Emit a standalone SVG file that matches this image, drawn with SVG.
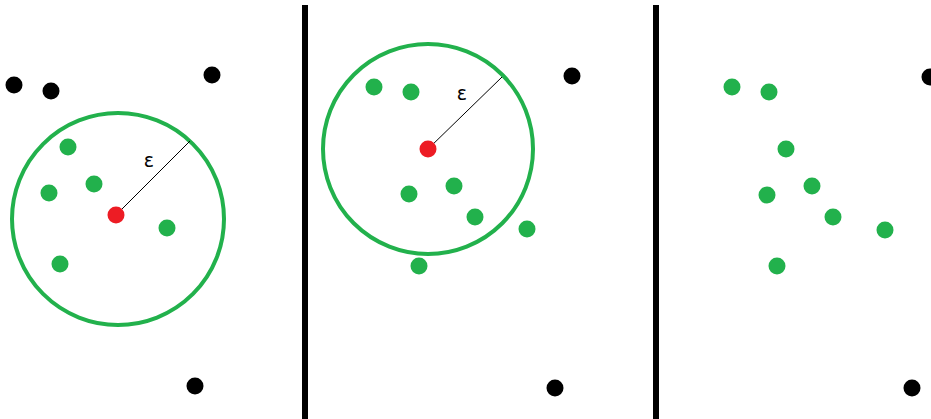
<svg xmlns="http://www.w3.org/2000/svg" width="931" height="419" viewBox="0 0 931 419">
<style>
.bg{fill:#fff}
.div{fill:#000}
.ring{fill:none;stroke:#22b14c;stroke-width:4}
.g{fill:#22b14c}
.k{fill:#000}
.r{fill:#ed1c24}
.rad{stroke:#000;stroke-width:1}
.eps{font-family:"DejaVu Sans","Liberation Sans",sans-serif;font-size:19px;fill:#000;text-anchor:middle}
</style>
<rect class="bg" x="0" y="0" width="931" height="419"/>
<g id="dividers">
<rect class="div" x="302" y="5" width="6" height="414"/>
<rect class="div" x="653" y="5" width="6" height="414"/>
</g>
<g id="panel1">
<circle class="ring" cx="118" cy="219" r="106"/>
<line class="rad" x1="116" y1="215" x2="190" y2="141"/>
<text class="eps" x="149" y="167">ε</text>
<circle class="k" cx="14" cy="85" r="8.5"/>
<circle class="k" cx="51" cy="91" r="8.5"/>
<circle class="k" cx="212" cy="75" r="8.5"/>
<circle class="k" cx="195" cy="386" r="8.5"/>
<circle class="g" cx="68" cy="147" r="8.5"/>
<circle class="g" cx="94" cy="184" r="8.5"/>
<circle class="g" cx="49" cy="193" r="8.5"/>
<circle class="g" cx="167" cy="228" r="8.5"/>
<circle class="g" cx="60" cy="264" r="8.5"/>
<circle class="r" cx="116" cy="215" r="8.5"/>
</g>
<g id="panel2">
<circle class="ring" cx="428" cy="149" r="105"/>
<line class="rad" x1="428" y1="149" x2="502" y2="77"/>
<text class="eps" x="462" y="100">ε</text>
<circle class="k" cx="572" cy="76" r="8.5"/>
<circle class="k" cx="555" cy="388" r="8.5"/>
<circle class="g" cx="374" cy="87" r="8.5"/>
<circle class="g" cx="411" cy="92" r="8.5"/>
<circle class="g" cx="409" cy="194" r="8.5"/>
<circle class="g" cx="454" cy="186" r="8.5"/>
<circle class="g" cx="475" cy="217" r="8.5"/>
<circle class="g" cx="527" cy="229" r="8.5"/>
<circle class="g" cx="419" cy="266" r="8.5"/>
<circle class="r" cx="428" cy="149" r="8.5"/>
</g>
<g id="panel3">
<circle class="k" cx="930" cy="77" r="8.5"/>
<circle class="k" cx="912" cy="388" r="8.5"/>
<circle class="g" cx="732" cy="87" r="8.5"/>
<circle class="g" cx="769" cy="92" r="8.5"/>
<circle class="g" cx="786" cy="149" r="8.5"/>
<circle class="g" cx="812" cy="186" r="8.5"/>
<circle class="g" cx="767" cy="195" r="8.5"/>
<circle class="g" cx="833" cy="217" r="8.5"/>
<circle class="g" cx="885" cy="230" r="8.5"/>
<circle class="g" cx="777" cy="266" r="8.5"/>
</g>
</svg>
